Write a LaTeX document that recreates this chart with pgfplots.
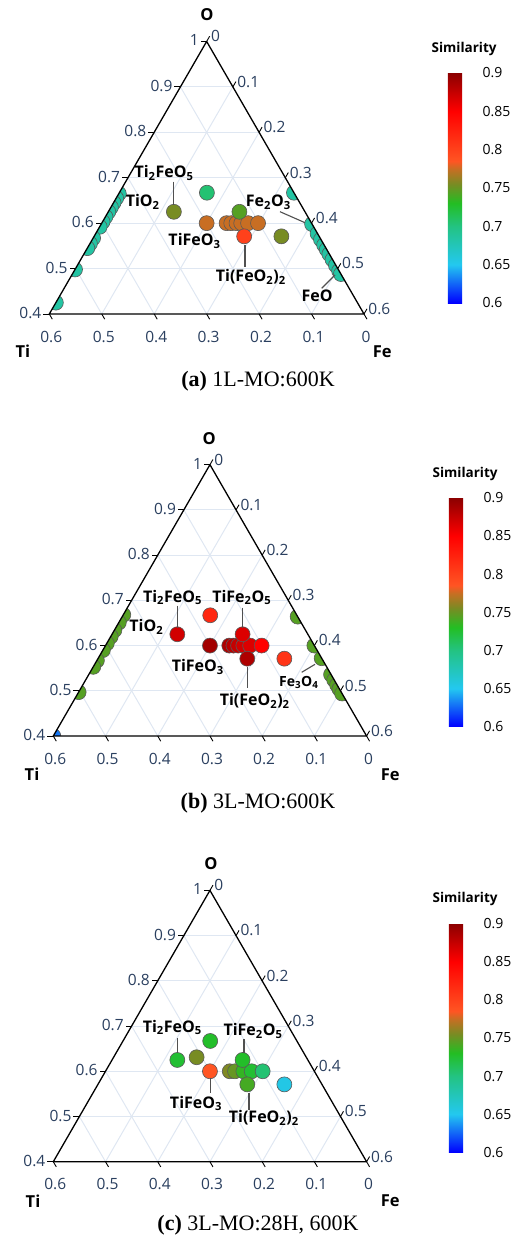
\documentclass[border=0pt]{standalone}
\usepackage{pgfplots}
\pgfplotsset{compat=1.18}
\usepackage{pgfplotstable}
\usepackage{fontspec}
\setmainfont{Liberation Serif}
\newfontfamily\osans{Open Sans}
\usetikzlibrary{calc}
\definecolor{tickc}{HTML}{2A3F5F}
\definecolor{gridc}{HTML}{DFE7F2}
\definecolor{leadc}{HTML}{505050}

\pgfplotsset{colormap={sim}{rgb255(0cm)=(0,0,255); rgb255(5cm)=(35,200,240); rgb255(10cm)=(35,195,130); rgb255(13cm)=(35,190,35); rgb255(15.5cm)=(120,140,35); rgb255(17.5cm)=(200,110,35); rgb255(18.5cm)=(255,85,35); rgb255(25cm)=(255,0,0); rgb255(30cm)=(139,0,0)}}

% ---------- data: O fraction, Fe fraction, similarity ----------
\pgfplotstableread{
O Fe s
0.600 0.200 0.775
0.600 0.238 0.775
0.600 0.247 0.775
0.600 0.257 0.775
0.600 0.266 0.775
0.600 0.279 0.775
0.600 0.298 0.775
0.667 0.167 0.705
0.625 0.125 0.755
0.625 0.250 0.745
0.571 0.286 0.800
0.571 0.357 0.755
}\intA
\pgfplotstableread{
O Fe s
0.665 0 0.685
0.655 0 0.685
0.645 0 0.685
0.635 0 0.685
0.625 0 0.685
0.614 0 0.685
0.603 0 0.685
0.592 0 0.685
0.567 0 0.685
0.555 0 0.685
0.545 0 0.685
0.498 0 0.685
0.425 0 0.685
0.667 0.333 0.685
0.598 0.402 0.685
0.577 0.423 0.685
0.564 0.436 0.685
0.552 0.448 0.685
0.542 0.458 0.685
0.532 0.468 0.685
0.520 0.480 0.685
0.507 0.493 0.685
0.495 0.505 0.685
0.488 0.512 0.685
}\edgeA
\pgfplotstableread{
O Fe s
0.667 0.167 0.820
0.625 0.125 0.870
0.600 0.200 0.890
0.600 0.237 0.885
0.600 0.245 0.880
0.600 0.254 0.875
0.600 0.264 0.870
0.600 0.277 0.865
0.600 0.299 0.850
0.625 0.250 0.865
0.571 0.286 0.885
0.571 0.357 0.810
}\intB
\pgfplotstableread{
O Fe s
0.668 0 0.745
0.651 0 0.745
0.634 0 0.745
0.620 0 0.745
0.605 0 0.745
0.590 0 0.745
0.567 0 0.745
0.553 0 0.745
0.497 0 0.745
0.400 0 0.630
0.664 0.336 0.745
0.600 0.400 0.745
0.572 0.428 0.745
0.536 0.464 0.745
0.524 0.476 0.745
0.513 0.487 0.745
0.504 0.496 0.745
0.494 0.506 0.745
}\edgeB
\pgfplotstableread{
O Fe s
0.667 0.167 0.728
0.625 0.125 0.725
0.631 0.159 0.755
0.600 0.200 0.785
0.600 0.238 0.757
0.600 0.248 0.750
0.600 0.264 0.735
0.600 0.280 0.725
0.600 0.301 0.705
0.625 0.250 0.728
0.571 0.286 0.740
0.571 0.357 0.655
}\intC

\tikzset{
 tlab/.style={font=\osans\fontsize{15.5}{16}\selectfont, text=tickc, inner sep=1.5pt},
 clab/.style={font=\osans\bfseries\fontsize{16}{17}\selectfont, inner sep=0pt},
 ttl/.style={font=\osans\bfseries\fontsize{16.5}{17}\selectfont, inner sep=0pt},
 lead/.style={draw=leadc, line width=1.1pt},
 tk/.style={draw=black, line width=0.9pt},
 capt/.style={font=\fontsize{22}{24}\selectfont, inner sep=0pt},
}

\pgfplotsset{
 tern/.style={scale only axis, xmin=0, xmax=0.6, ymin=0, ymax=0.5196152,
   hide axis, clip=false, clip marker paths=true, enlargelimits=false, anchor=south west,
   colormap name=sim, point meta min=0.6, point meta max=0.9, colorbar},
 cbar/.style n args={3}{colorbar style={scale only axis, width=32.5pt, height=#3,
   at={($(parent axis.south west)+(#1,#2)$)}, anchor=south west,
   ytick={0.6,0.65,0.7,0.75,0.8,0.85,0.9},
   yticklabels={0.6,0.65,0.7,0.75,0.8,0.85,0.9},
   yticklabel style={font=\osans\fontsize{14}{14}\selectfont, text=black, inner sep=2pt},
   major tick length=0pt, axis line style={draw=none},
   title={Similarity},
   title style={font=\osans\bfseries\fontsize{13.5}{14}\selectfont, at={(0.5,1)}, anchor=base, inner sep=0pt, yshift=14.5pt}}},
 pts/.style={scatter, only marks, mark=*, mark size=7.5pt, scatter src=explicit,
   scatter/use mapped color={draw=black!65, fill=mapped color, line width=0.6pt}},
}

\newcommand\ternpts[1]{\addplot[pts] table[x expr=\thisrow{Fe}+(\thisrow{O}-0.4)/2, y expr=(\thisrow{O}-0.4)*0.8660254, meta=s] {#1};}

\newcommand\terngrid{%
 \pgfplotsinvokeforeach{0.1,0.2,0.3,0.4,0.5}{%
  \draw[gridc, line width=1pt] (axis cs:{##1/2},{##1*0.8660254}) -- (axis cs:{0.6-##1/2},{##1*0.8660254});
  \draw[gridc, line width=1pt] (axis cs:{##1},0) -- (axis cs:{0.3+##1/2},{(0.6-##1)*0.8660254});
  \draw[gridc, line width=1pt] (axis cs:{0.6-##1},0) -- (axis cs:{(0.6-##1)/2},{(0.6-##1)*0.8660254});
 }}
\newcommand\ltick[2]{\draw[tk] (axis cs:{#1/2},{#1*0.8660254}) -- ++(-6pt,0pt) node[anchor=east, tlab, yshift=1pt]{#2};}
\newcommand\rtick[2]{\draw[tk] (axis cs:{0.3+#1/2},{(0.6-#1)*0.8660254}) -- ++(3pt,5.2pt) node[anchor=west, tlab, inner sep=1pt]{#2};}
\newcommand\btick[2]{\draw[tk] (axis cs:{0.6-#1},0) -- ++(3pt,-5.2pt); \node[tlab] at ([xshift=2pt,yshift=-22.5pt]axis cs:{0.6-#1},0) {#2};}
\newcommand\ternmask{\fill[white, even odd rule] ([shift={(-14pt,-14pt)}]axis cs:0,0) rectangle ([shift={(14pt,14pt)}]axis cs:0.6,0.5196152) (axis cs:0,0) -- (axis cs:0.6,0) -- (axis cs:0.3,0.5196152) -- cycle;}
\newcommand\ternedges{%
 \draw[black, line width=1.3pt, line join=round] (axis cs:0,0) -- (axis cs:0.6,0) -- (axis cs:0.3,0.5196152) -- cycle;
 \ltick{0}{0.4}\ltick{0.1}{0.5}\ltick{0.2}{0.6}\ltick{0.3}{0.7}\ltick{0.4}{0.8}\ltick{0.5}{0.9}\ltick{0.6}{1}
 \rtick{0}{0}\rtick{0.1}{0.1}\rtick{0.2}{0.2}\rtick{0.3}{0.3}\rtick{0.4}{0.4}\rtick{0.5}{0.5}\rtick{0.6}{0.6}
 \btick{0.6}{0.6}\btick{0.5}{0.5}\btick{0.4}{0.4}\btick{0.3}{0.3}\btick{0.2}{0.2}\btick{0.1}{0.1}\btick{0}{0}
}
\newcommand\ternclip{\clip (axis cs:0,0) -- (axis cs:0.6,0) -- (axis cs:0.3,0.5196152) -- cycle;}

\begin{document}
\begin{tikzpicture}
\useasboundingbox (0pt,0pt) rectangle (516pt,-1247pt);

% ---------------- (a) ----------------
\begin{axis}[tern, at={(49.3pt,-314pt)}, width=314.7pt, height=272.55pt, cbar={390pt}{11pt}{230pt}]
\terngrid
\begin{scope}\ternclip \ternpts{\edgeA} \end{scope}
\ternmask
\ternpts{\intA}
\ternedges
\end{axis}

% ---------------- (b) ----------------
\begin{axis}[tern, at={(53.3pt,-736pt)}, width=313.3pt, height=271.33pt, cbar={387pt}{9.3pt}{229pt}]
\terngrid
\begin{scope}\ternclip \ternpts{\edgeB} \end{scope}
\ternmask
\ternpts{\intB}
\ternedges
\end{axis}

% ---------------- (c) ----------------
\begin{axis}[tern, at={(53.3pt,-1161.7pt)}, width=313.3pt, height=271.33pt, cbar={387pt}{9.3pt}{229pt}]
\terngrid
\ternpts{\intC}
\ternedges
\end{axis}

% ---------------- axis titles ----------------
\node[ttl] at (207pt,-15pt) {O};
\node[ttl] at (22.8pt,-351.7pt) {Ti};
\node[ttl] at (382.2pt,-351.7pt) {Fe};
\node[ttl] at (209.3pt,-439pt) {O};
\node[ttl] at (32pt,-774.5pt) {Ti};
\node[ttl] at (390.2pt,-774.5pt) {Fe};
\node[ttl] at (211pt,-864pt) {O};
\node[ttl] at (33pt,-1201pt) {Ti};
\node[ttl] at (390.2pt,-1201pt) {Fe};

% ---------------- annotations (a) ----------------
\draw[lead] (173.3pt,-181.7pt) -- (173.3pt,-205pt);
\draw[lead] (245pt,-245pt) -- (245pt,-266.7pt);
\draw[lead] (280pt,-211.7pt) -- (305pt,-222.7pt);
\draw[lead] (321.7pt,-288.3pt) -- (335pt,-275pt);
\node[clab] at (164pt,-172.7pt) {Ti\textsubscript{2}FeO\textsubscript{5}};
\node[clab] at (142.7pt,-201.7pt) {TiO\textsubscript{2}};
\node[clab] at (268.3pt,-202.5pt) {Fe\textsubscript{2}O\textsubscript{3}};
\node[clab] at (194.5pt,-240.8pt) {TiFeO\textsubscript{3}};
\node[clab] at (250.8pt,-276.7pt) {Ti(FeO\textsubscript{2})\textsubscript{2}};
\node[clab] at (317pt,-295.8pt) {FeO};

% ---------------- annotations (b) ----------------
\draw[lead] (177.3pt,-605.7pt) -- (177.3pt,-628.3pt);
\draw[lead] (242.3pt,-607.7pt) -- (242.3pt,-628.3pt);
\draw[lead] (247.7pt,-666.7pt) -- (247.7pt,-688.3pt);
\draw[lead] (301.7pt,-672.3pt) -- (315pt,-664.3pt);
\node[clab] at (172.5pt,-597.5pt) {Ti\textsubscript{2}FeO\textsubscript{5}};
\node[clab] at (241.7pt,-597.5pt) {TiFe\textsubscript{2}O\textsubscript{5}};
\node[clab] at (146.3pt,-627pt) {TiO\textsubscript{2}};
\node[clab] at (197.8pt,-666.7pt) {TiFeO\textsubscript{3}};
\node[clab] at (254.7pt,-700.8pt) {Ti(FeO\textsubscript{2})\textsubscript{2}};
\node[clab, font=\osans\bfseries\fontsize{14}{15}\selectfont] at (298.8pt,-682.2pt) {Fe\textsubscript{3}O\textsubscript{4}};

% ---------------- annotations (c) ----------------
\draw[lead] (177.3pt,-1038.3pt) -- (177.3pt,-1053.3pt);
\draw[lead] (244pt,-1039.3pt) -- (244pt,-1053.3pt);
\draw[lead] (210.7pt,-1078.3pt) -- (210.7pt,-1093.3pt);
\draw[lead] (249pt,-1093.3pt) -- (249pt,-1110pt);
\node[clab] at (172.2pt,-1027.5pt) {Ti\textsubscript{2}FeO\textsubscript{5}};
\node[clab] at (253pt,-1030.8pt) {TiFe\textsubscript{2}O\textsubscript{5}};
\node[clab] at (196pt,-1103.3pt) {TiFeO\textsubscript{3}};
\node[clab] at (263.8pt,-1118pt) {Ti(FeO\textsubscript{2})\textsubscript{2}};

% ---------------- captions ----------------
\node[capt] at (258pt,-381pt) {\textbf{(a)} 1L-MO:600K};
\node[capt] at (258pt,-803pt) {\textbf{(b)} 3L-MO:600K};
\node[capt] at (258pt,-1225pt) {\textbf{(c)} 3L-MO:28H, 600K};
\end{tikzpicture}
\end{document}
